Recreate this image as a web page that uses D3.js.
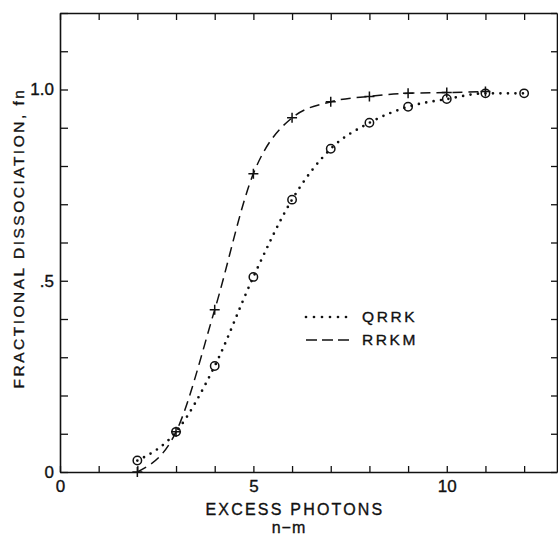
<!DOCTYPE html>
<html><head><meta charset="utf-8">
<script src="https://cdn.jsdelivr.net/npm/d3@7"></script>
<style>
body{margin:0;background:#fff;}
text{font-family:"Liberation Sans",Arial,sans-serif;fill:#111;stroke:#111;stroke-width:0.35px;}
</style></head>
<body><svg id="c" width="558" height="535"></svg>
<script>
const photons = [2,3,4,5,6,7,8,9,10,11,12];
const qrrk = [0.03,0.105,0.277,0.51,0.712,0.845,0.913,0.955,0.975,0.99,0.99];
const rrkmX = [2,3,4,5,6,7,8,9,10,11];
const rrkm = [0.0,0.105,0.424,0.78,0.926,0.968,0.982,0.99,0.992,0.995];
const yTicks = [0,0.1,0.2,0.3,0.4,0.5,0.6,0.7,0.8,0.9,1.0,1.1,1.2];
const yLabels = {"0":"0","0.5":".5","1":"1.0"};
const xTicks = [0,1,2,3,4,5,6,7,8,9,10,11,12];
const xLabels = [0,5,10];

const svg = d3.select("#c");
const x = d3.scaleLinear().domain([0,12.85]).range([60,557]);
const y = d3.scaleLinear().domain([0,1.2]).range([472,13]);
const ink = "#111";

function styleAxis(g){
  g.selectAll("path.domain").attr("stroke",ink).attr("stroke-width",1.6);
  g.selectAll(".tick line").attr("stroke",ink).attr("stroke-width",1.3);
  g.selectAll(".tick text").style("font-size","17px").attr("fill",ink)
   .style("font-family","'Liberation Sans',Arial,sans-serif");
}
svg.append("g").attr("transform","translate(60,0)")
  .call(d3.axisLeft(y).tickValues(yTicks).tickSize(-8).tickSizeOuter(0).tickPadding(6)
    .tickFormat(d=>yLabels[String(+d.toFixed(1))]||""))
  .call(styleAxis);
svg.append("g").attr("transform","translate(557,0)")
  .call(d3.axisRight(y).tickValues(yTicks).tickSize(-6).tickSizeOuter(0).tickFormat(""))
  .call(styleAxis);
svg.append("g").attr("transform","translate(0,472)")
  .call(d3.axisBottom(x).tickValues(xTicks).tickSize(-6).tickSizeOuter(0).tickPadding(8)
    .tickFormat(d=>xLabels.includes(d)?String(d):""))
  .call(styleAxis);
svg.append("g").attr("transform","translate(0,13)")
  .call(d3.axisTop(x).tickValues(xTicks).tickSize(-7).tickSizeOuter(0).tickFormat(""))
  .call(styleAxis);

const q = photons.map((p,i)=>[p,qrrk[i]]);
const r = rrkmX.map((p,i)=>[p,rrkm[i]]);
const line = d3.line().x(d=>x(d[0])).y(d=>y(d[1])).curve(d3.curveMonotoneX);

svg.append("path").attr("d",line(q)).attr("fill","none").attr("stroke",ink)
  .attr("stroke-width",2.7).attr("stroke-linecap","round").attr("stroke-dasharray","0 7.5");
svg.append("path").attr("d",line(r)).attr("fill","none").attr("stroke",ink)
  .attr("stroke-width",1.5).attr("stroke-dasharray","10 6");

svg.selectAll("circle.q").data(q).join("circle").attr("class","q")
  .attr("cx",d=>x(d[0])).attr("cy",d=>y(d[1])).attr("r",4.2)
  .attr("fill","none").attr("stroke",ink).attr("stroke-width",1.5);
svg.selectAll("path.plus").data(r).join("path").attr("class","plus")
  .attr("d",d=>{const cx=x(d[0]),cy=y(d[1]),s=5;return `M${cx-s},${cy}H${cx+s}M${cx},${cy-s}V${cy+s}`;})
  .attr("stroke",ink).attr("stroke-width",1.5);

// legend
const lg = svg.append("g");
lg.append("line").attr("x1",306).attr("x2",349).attr("y1",317).attr("y2",317)
  .attr("stroke",ink).attr("stroke-width",2.7).attr("stroke-linecap","round").attr("stroke-dasharray","0 8");
lg.append("line").attr("x1",306).attr("x2",350).attr("y1",340).attr("y2",340)
  .attr("stroke",ink).attr("stroke-width",1.5).attr("stroke-dasharray","11 5");
lg.append("text").attr("x",362).attr("y",322).style("font-size","15.5px").style("letter-spacing","2.6px").text("QRRK");
lg.append("text").attr("x",362).attr("y",345).style("font-size","15.5px").style("letter-spacing","2.6px").text("RRKM");

// axis titles
svg.append("text").attr("x",295).attr("y",515).attr("text-anchor","middle")
  .style("font-size","16px").style("letter-spacing","2.2px").text("EXCESS PHOTONS");
svg.append("text").attr("x",289).attr("y",533).attr("text-anchor","middle")
  .style("font-size","16px").style("letter-spacing","1px").text("n\u2212m");
svg.append("text").attr("transform","translate(24,238) rotate(-90)").attr("text-anchor","middle")
  .style("font-size","15.5px").style("letter-spacing","2.5px").text("FRACTIONAL DISSOCIATION, fn");
</script></body></html>
